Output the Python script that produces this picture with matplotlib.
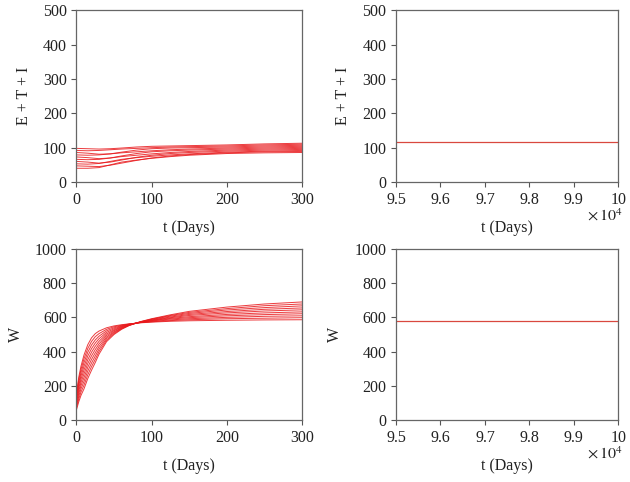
import matplotlib
matplotlib.use('Agg')
import matplotlib.pyplot as plt

plt.rcParams['font.family'] = ['Liberation Serif', 'DejaVu Serif']
plt.rcParams['mathtext.fontset'] = 'stix'
plt.rcParams['font.size'] = 11.5

# ---------------- data ----------------
# E + T + I, transient (t = 0..300 days), one row per curve
t_eti = [0, 15, 30, 45, 60, 80, 100, 125, 150, 200, 250, 300]
eti_curves = [
    [40, 40, 42, 50, 58, 64, 69, 74, 78, 83, 85, 86],
    [47, 46, 45, 49, 55, 63, 70, 76, 80, 85, 88, 89],
    [53, 52, 54, 60, 66, 71, 75, 79, 82, 87, 90, 92],
    [60, 58, 55, 58, 64, 72, 78, 83, 86, 90, 93, 95],
    [66, 65, 66, 70, 74, 78, 82, 86, 89, 93, 96, 98],
    [73, 71, 68, 70, 76, 83, 88, 91, 93, 96, 99, 101],
    [79, 78, 79, 82, 85, 88, 91, 94, 96, 99, 102, 104],
    [86, 84, 81, 82, 87, 93, 97, 99, 100, 102, 105, 107],
    [92, 91, 92, 94, 96, 98, 100, 102, 103, 105, 108, 110],
    [98, 97, 96, 97, 99, 102, 104, 105, 106, 108, 111, 113],
]

# W, transient (t = 0..300 days), one row per curve
t_w = [0, 3, 6, 10, 15, 20, 25, 30, 40, 50, 60, 70, 85, 100, 125, 150, 200, 250, 300]
w_curves = [
    [160, 250, 315, 380, 440, 480, 505, 520, 539, 550, 557, 562, 568, 572, 577, 580, 583, 585, 586],
    [149, 234, 296, 358, 418, 459, 487, 505, 530, 545, 554, 561, 569, 574, 581, 586, 592, 595, 598],
    [138, 218, 277, 336, 396, 438, 468, 490, 521, 539, 551, 560, 570, 576, 585, 592, 600, 606, 609],
    [127, 202, 258, 314, 374, 417, 450, 475, 512, 533, 548, 559, 570, 579, 590, 598, 609, 616, 621],
    [116, 186, 239, 292, 352, 396, 431, 460, 503, 527, 545, 558, 571, 581, 594, 604, 617, 626, 632],
    [104, 170, 220, 270, 330, 375, 412, 445, 494, 522, 542, 556, 572, 583, 598, 611, 626, 637, 644],
    [93, 154, 201, 248, 308, 354, 393, 430, 485, 516, 539, 555, 573, 585, 602, 617, 634, 647, 655],
    [82, 138, 182, 226, 286, 333, 374, 415, 476, 511, 536, 554, 573, 588, 607, 623, 643, 657, 667],
    [71, 122, 163, 204, 264, 312, 355, 400, 467, 505, 533, 553, 574, 590, 611, 629, 651, 668, 678],
    [60, 106, 144, 182, 242, 291, 336, 385, 458, 500, 530, 552, 575, 592, 615, 635, 660, 678, 690],
]

# long-run window (t = 9.5e4..1e5 days): steady state
t_long = [95000, 100000]
eti_long = [116, 116]
w_long = [580, 580]

long_ticks = [95000, 96000, 97000, 98000, 99000, 100000]
long_ticklabels = ['9.5', '9.6', '9.7', '9.8', '9.9', '10']

# ---------------- figure ----------------
fig = plt.figure(figsize=(6.3, 4.82), dpi=100)
ax_tl = fig.add_axes([0.1214, 0.6224, 0.358, 0.356])
ax_tr = fig.add_axes([0.6286, 0.6224, 0.353, 0.356])
ax_bl = fig.add_axes([0.1214, 0.1286, 0.358, 0.355])
ax_br = fig.add_axes([0.6286, 0.1286, 0.353, 0.355])

red = '#e8191c'
for row in eti_curves:
    ax_tl.plot(t_eti, row, color=red, lw=0.7, alpha=0.85)
for row in w_curves:
    ax_bl.plot(t_w, row, color=red, lw=0.7, alpha=0.85)
ax_tr.plot(t_long, eti_long, color='#d9483f', lw=0.9)
ax_br.plot(t_long, w_long, color='#d9483f', lw=0.9)

for ax in (ax_tl, ax_bl):
    ax.set_xlim(0, 300)
    ax.set_xticks([0, 100, 200, 300])
for ax in (ax_tr, ax_br):
    ax.set_xlim(95000, 100000)
    ax.set_xticks(long_ticks)
    ax.set_xticklabels(long_ticklabels)
    ax.text(1.02, -0.155, r'$\times\,10^{4}$', transform=ax.transAxes,
            ha='right', va='top', fontsize=11.5, color='#222222')

for ax in (ax_tl, ax_tr):
    ax.set_ylim(0, 500)
    ax.set_yticks([0, 100, 200, 300, 400, 500])
    ax.set_ylabel('E + T + I', labelpad=8)
for ax in (ax_bl, ax_br):
    ax.set_ylim(0, 1000)
    ax.set_yticks([0, 200, 400, 600, 800, 1000])
    ax.set_ylabel('W', labelpad=8)

for ax in (ax_tl, ax_tr, ax_bl, ax_br):
    ax.set_xlabel('t (Days)', labelpad=9)
    ax.tick_params(direction='out', length=3.5, width=0.8, colors='#555555',
                   labelcolor='#222222', labelsize=11.5, top=False, right=False)
    for s in ax.spines.values():
        s.set_color('#666666')
        s.set_linewidth(0.9)
    ax.xaxis.label.set_color('#222222')
    ax.yaxis.label.set_color('#222222')

plt.savefig('out.png', dpi=100)
